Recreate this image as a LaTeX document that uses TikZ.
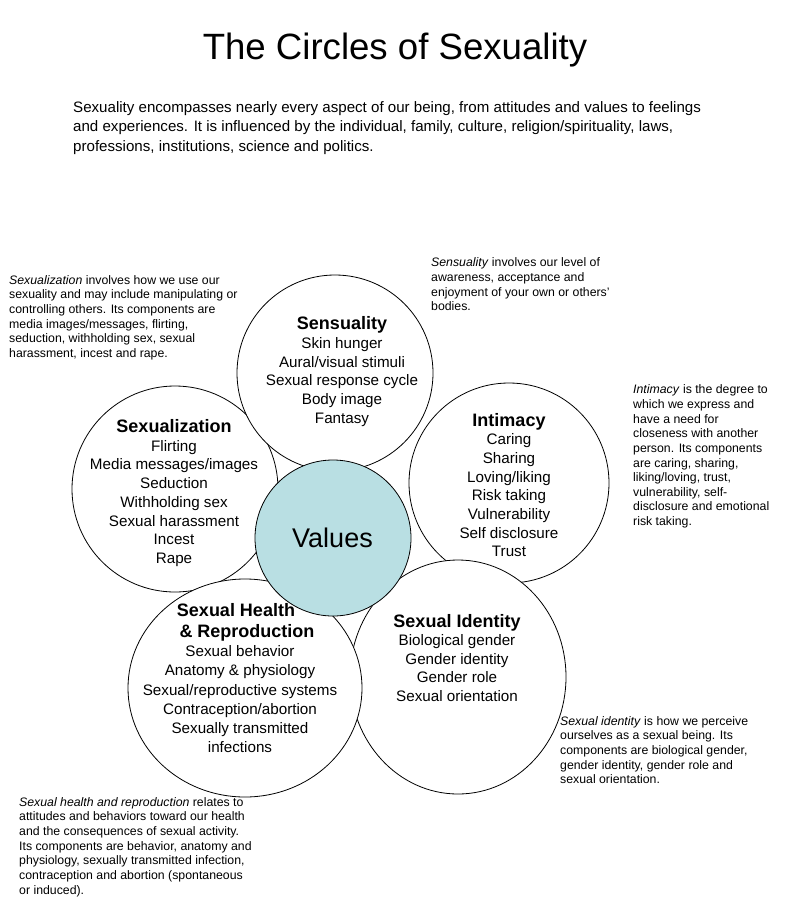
\documentclass[tikz,border=0pt]{standalone}
\usepackage{fontspec}
\usetikzlibrary{shapes.geometric}
\setmainfont{Liberation Sans}
\definecolor{valuesfill}{RGB}{185,223,227}
\begin{document}
\begin{tikzpicture}[x=1pt,y=-1pt,
  bubble/.style={circle,draw=black,line width=0.8pt,fill=white,inner sep=0pt},
  obubble/.style={ellipse,draw=black,line width=0.8pt,fill=white,inner sep=0pt},
  valuebubble/.style={bubble,fill=valuesfill},
  circtext/.style={align=center,inner sep=0pt,font=\fontsize{15.2}{18.7}\selectfont},
  note/.style={align=left,anchor=west,inner sep=0pt,font=\fontsize{12.3}{14.65}\selectfont}]
\useasboundingbox (0,0) rectangle (788,911);
% title and intro
\node[anchor=base,inner sep=0pt,font=\fontsize{36.6}{40}\selectfont] (title) at (395,59.5) {The Circles of Sexuality};
\node[anchor=west,align=left,inner sep=0pt,font=\fontsize{15.1}{19.5}\selectfont] (intro) at (73,128)
 {Sexuality encompasses nearly every aspect of our being, from attitudes and values to feelings\\
  and experiences. It is influenced by the individual, family, culture, religion/spirituality, laws,\\
  professions, institutions, science and politics.};
% circles (stacking order matters)
\node[bubble,minimum size=200pt] (cint) at (509,483) {};
\node[bubble,minimum size=206pt] (csexz) at (175,489) {};
\node[bubble,minimum size=196pt] (csens) at (335,373) {};
\node[obubble,minimum width=216pt,minimum height=234pt] (cident) at (458,677) {};
\node[obubble,minimum width=234pt,minimum height=218pt] (chealth) at (245,688) {};
\node[valuebubble,minimum size=156pt] (cval) at (333,538) {};
% circle texts
\node[circtext] (tsens) at (342,371.5) {{\bfseries\fontsize{18}{18.7}\selectfont Sensuality}\\Skin hunger\\Aural/visual stimuli\\Sexual response cycle\\Body image\\Fantasy};
\node[circtext] (tsexz) at (174,493) {{\bfseries\fontsize{18}{18.7}\selectfont Sexualization}\\Flirting\\Media messages/images\\Seduction\\Withholding sex\\Sexual harassment\\Incest\\Rape};
\node[circtext] (tint) at (509,485) {{\bfseries\fontsize{18}{18.7}\selectfont Intimacy}\\Caring\\Sharing\\Loving/liking\\Risk taking\\Vulnerability\\Self disclosure\\Trust};
\node[circtext,font=\fontsize{15.2}{19.1}\selectfont] (thealth) at (240,678) {{\bfseries\fontsize{18}{19.1}\selectfont Sexual Health\hspace*{8pt}}\\[2pt]{\bfseries\fontsize{18}{19.1}\selectfont \hspace*{14pt}\& Reproduction}\\[0pt]Sexual behavior\\Anatomy \& physiology\\Sexual/reproductive systems\\Contraception/abortion\\Sexually transmitted\\infections};
\node[circtext,font=\fontsize{15.2}{18.5}\selectfont] (tident) at (457,658) {{\bfseries\fontsize{18}{18.5}\selectfont Sexual Identity}\\Biological gender\\Gender identity\\Gender role\\Sexual orientation};
\node[anchor=base,inner sep=0pt,font=\fontsize{27}{30}\selectfont] (tval) at (332.5,547) {Values};
% notes
\node[note] (nsexz) at (9,317.5) {\textit{Sexualization} involves how we use our\\sexuality and may include manipulating or\\controlling others. Its components are\\media images/messages, flirting,\\seduction, withholding sex, sexual\\harassment, incest and rape.};
\node[note] (nsens) at (431,284.5) {\textit{Sensuality} involves our level of\\awareness, acceptance and\\enjoyment of your own or others'\\bodies.};
\node[note] (nint) at (633,456.5) {\textit{Intimacy} is the degree to\\which we express and\\have a need for\\closeness with another\\person. Its components\\are caring, sharing,\\liking/loving, trust,\\vulnerability, self-\\disclosure and emotional\\risk taking.};
\node[note] (nident) at (560,750) {\textit{Sexual identity} is how we perceive\\ourselves as a sexual being. Its\\components are biological gender,\\gender identity, gender role and\\sexual orientation.};
\node[note] (nhealth) at (19,847) {\textit{Sexual health and reproduction} relates to\\attitudes and behaviors toward our health\\and the consequences of sexual activity.\\Its components are behavior, anatomy and\\physiology, sexually transmitted infection,\\contraception and abortion (spontaneous\\or induced).};
\end{tikzpicture}
\end{document}
